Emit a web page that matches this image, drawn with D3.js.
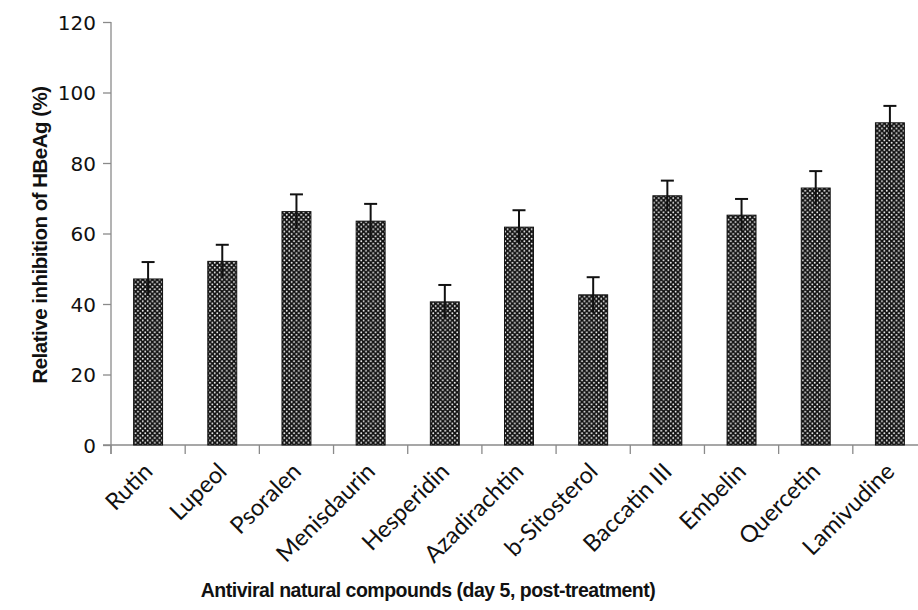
<!DOCTYPE html>
<html>
<head>
<meta charset="utf-8">
<script src="https://cdn.jsdelivr.net/npm/d3@7"></script>
<style>
  body { margin: 0; background: #fff; }
  svg { display: block; }
</style>
</head>
<body>
<svg id="chart" width="918" height="610"></svg>
<script>
// Relative inhibition of HBeAg, day 5 post-treatment
const compounds = ['Rutin', 'Lupeol', 'Psoralen', 'Menisdaurin', 'Hesperidin', 'Azadirachtin',
    'b-Sitosterol', 'Baccatin III', 'Embelin', 'Quercetin', 'Lamivudine'];
const inhibition = [47.1, 52.1, 66.2, 63.5, 40.6, 61.8, 42.6, 70.7, 65.2, 72.9, 91.4];
const errors = [4.8, 4.7, 4.9, 4.9, 4.8, 4.8, 5.0, 4.3, 4.6, 4.8, 4.8];
const yTicks = [0, 20, 40, 60, 80, 100, 120];

const svg = d3.select('#chart');
const axisColor = '#8a8a8a';

const x = d3.scaleBand()
    .domain(compounds)
    .range([111, 927])
    .paddingInner(0.61)
    .paddingOuter(0.305);

const y = d3.scaleLinear()
    .domain([0, 120])
    .range([445, 22]);

// dotted fill pattern
const pat = svg.append('defs').append('pattern')
    .attr('id', 'dots')
    .attr('patternUnits', 'userSpaceOnUse')
    .attr('width', 4.8)
    .attr('height', 4.8);
pat.append('rect').attr('width', 4.8).attr('height', 4.8).attr('fill', '#111');
pat.append('circle').attr('cx', 1.2).attr('cy', 1.2).attr('r', 0.9).attr('fill', '#fff');
pat.append('circle').attr('cx', 3.6).attr('cy', 3.6).attr('r', 0.9).attr('fill', '#fff');

// y axis
const yAxis = svg.append('g')
    .attr('transform', 'translate(111,0)')
    .call(d3.axisLeft(y).tickValues(yTicks).tickSize(8).tickPadding(7));
yAxis.select('.domain').remove();
yAxis.selectAll('line').attr('stroke', axisColor).attr('stroke-width', 1.3);
yAxis.selectAll('text')
    .attr('font-family', 'DejaVu Sans, Verdana, sans-serif')
    .attr('font-size', 20)
    .attr('dy', '0.36em')
    .attr('fill', '#111');
svg.append('line')
    .attr('x1', 111).attr('x2', 111)
    .attr('y1', y(120)).attr('y2', 454)
    .attr('stroke', axisColor).attr('stroke-width', 1.3);

// x axis with ticks at band boundaries
svg.append('line')
    .attr('x1', 103).attr('x2', 918)
    .attr('y1', y(0)).attr('y2', y(0))
    .attr('stroke', axisColor).attr('stroke-width', 1.3);
const step = x.step();
svg.append('g').selectAll('line')
    .data(d3.range(compounds.length + 1))
    .join('line')
    .attr('x1', i => 111 + i * step)
    .attr('x2', i => 111 + i * step)
    .attr('y1', y(0))
    .attr('y2', y(0) + 9)
    .attr('stroke', axisColor).attr('stroke-width', 1.3);

// bars
svg.append('g').selectAll('rect')
    .data(compounds)
    .join('rect')
    .attr('x', d => x(d))
    .attr('width', x.bandwidth())
    .attr('y', (d, i) => y(inhibition[i]))
    .attr('height', (d, i) => y(0) - y(inhibition[i]))
    .attr('fill', 'url(#dots)')
    .attr('stroke', '#111')
    .attr('stroke-width', 1);

// error bars (top cap only)
const err = svg.append('g').attr('stroke', '#111').attr('stroke-width', 2);
compounds.forEach((c, i) => {
    const cx = x(c) + x.bandwidth() / 2;
    err.append('line')
        .attr('x1', cx).attr('x2', cx)
        .attr('y1', y(inhibition[i] - errors[i]))
        .attr('y2', y(inhibition[i] + errors[i]));
    err.append('line')
        .attr('x1', cx - 6.5).attr('x2', cx + 6.5)
        .attr('y1', y(inhibition[i] + errors[i]))
        .attr('y2', y(inhibition[i] + errors[i]));
});

// category labels
svg.append('g').selectAll('text')
    .data(compounds)
    .join('text')
    .attr('transform', d => `translate(${x(d) + x.bandwidth() / 2 + 6},${y(0) + 28}) rotate(-45)`)
    .attr('text-anchor', 'end')
    .attr('font-family', 'Lato, Open Sans, sans-serif')
    .attr('font-size', 23.5)
    .attr('fill', '#111')
    .text(d => d);

// axis titles
svg.append('text')
    .attr('x', 428).attr('y', 597)
    .attr('text-anchor', 'middle')
    .attr('font-family', 'Liberation Sans, Arial, sans-serif')
    .attr('font-weight', 'bold')
    .attr('font-size', 19.5)
    .attr('letter-spacing', -0.5)
    .attr('fill', '#111')
    .text('Antiviral natural compounds (day 5, post-treatment)');

svg.append('text')
    .attr('transform', 'translate(47,235) rotate(-90)')
    .attr('text-anchor', 'middle')
    .attr('font-family', 'Liberation Sans, Arial, sans-serif')
    .attr('font-weight', 'bold')
    .attr('font-size', 20.5)
    .attr('letter-spacing', -0.5)
    .attr('fill', '#111')
    .text('Relative inhibition of HBeAg (%)');
</script>
</body>
</html>
